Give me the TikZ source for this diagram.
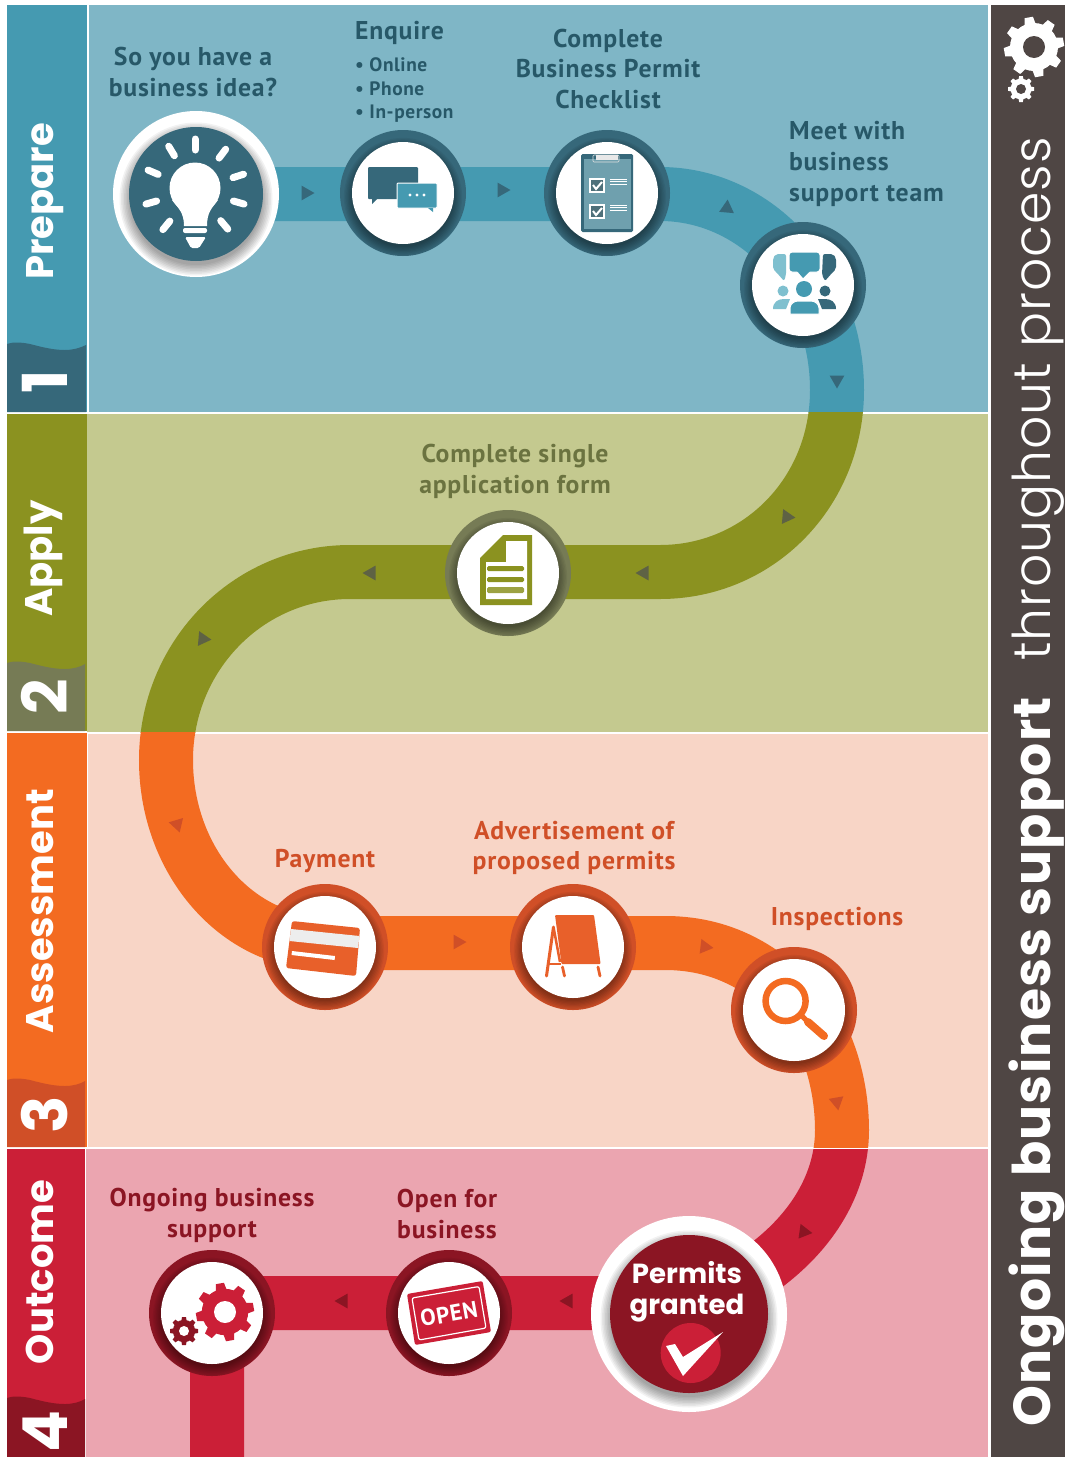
\documentclass[tikz,border=0pt]{standalone}
\usepackage{fontspec}
\setmainfont{PT Sans}
\newfontfamily\din{PT Sans}[LetterSpace=3]
\newfontfamily\popb{Poppins}[UprightFont=* Bold]
\newfontfamily\popbs{Poppins}[UprightFont=* Bold,LetterSpace=2.4]
\newfontfamily\popl{Poppins}[UprightFont=* Light,LetterSpace=1.8]
\definecolor{panelA}{HTML}{7FB6C6}\definecolor{panelB}{HTML}{C4C98F}
\definecolor{panelC}{HTML}{F8D5C6}\definecolor{panelD}{HTML}{EBA5B0}
\definecolor{trackA}{HTML}{459AB1}\definecolor{trackB}{HTML}{8B9220}
\definecolor{trackC}{HTML}{F36B21}\definecolor{trackD}{HTML}{CB1F37}
\definecolor{ringA}{HTML}{36687A}\definecolor{ringB}{HTML}{767B55}
\definecolor{ringC}{HTML}{D04F27}\definecolor{ringD}{HTML}{8B1523}
\definecolor{textA}{HTML}{275868}\definecolor{textB}{HTML}{6B7340}
\definecolor{sidebar}{HTML}{4F4644}\definecolor{iconC}{HTML}{E8602A}
\definecolor{lightA}{HTML}{7FC0CF}\definecolor{boardfill}{HTML}{6FA0AE}
\tikzset{
  lbl/.style={font=\din\bfseries\fontsize{25.7}{30.8}\selectfont,align=center,inner sep=0pt},
  lbls/.style={font=\din\bfseries\fontsize{19.4}{24}\selectfont,anchor=west,inner sep=0pt},
  sidelbl/.style={font=\popb\fontsize{38.5}{38.5}\selectfont,text=white,rotate=90,anchor=base,inner sep=0pt},
  numlbl/.style={font=\popb\fontsize{62}{62}\selectfont,text=white,rotate=90,anchor=base,inner sep=0pt},
  ringdisc/.style={circle,inner sep=0pt,minimum size=126pt},
  whitedisc/.style={circle,inner sep=0pt,minimum size=102pt,fill=white},
  trackline/.style={line width=54pt,line cap=butt,line join=miter}
}
\newcommand\softshade[3]{%
  \foreach \k in {0,...,7}{\fill[black,opacity=.05] (#1,#2+4) circle ({#3-1+\k*1.3});}}
\newcommand\stopdisc[4]{%
  \node[ringdisc,fill=#4] (#1) at (#2,#3) {};
  \begin{scope}\clip (#2,#3) circle (63);\softshade{#2}{#3}{51}\end{scope}
  \node[whitedisc] (#1in) at (#2,#3) {};}
\newcommand\tri[4]{\fill[#4,shift={(#1,#2)},rotate=#3] (7.5,0) -- (-5.5,-7.4) -- (-5.5,7.4) -- cycle;}
\newcommand\gearicon[7]{%
  \foreach \a in {0,45,...,315}{\fill[#5,shift={(#1,#2)},rotate=\a+#7]
     ({.68*#3},{-.2*#3}) -- (#3,{-.14*#3}) -- (#3,{.14*#3}) -- ({.68*#3},{.2*#3}) -- cycle;}
  \fill[#5] (#1,#2) circle ({.8*#3});
  \fill[#6] (#1,#2) circle (#4);}
\newcommand\wave[4]{%
  \fill[#4] (7,#2) -- (7,{#1+2}) .. controls (12,{#1}) and (20,{#1}) .. (30,{#1+2})
    .. controls (45,{#1+6}) and (55,{#1+8}) .. (65,{#1+8})
    .. controls (73,{#1+8}) and (80,{#1+6}) .. (#3,{#1+3}) -- (#3,#2) -- cycle;}
\begin{document}
\begin{tikzpicture}[x=1pt,y=-1pt]
\useasboundingbox (0,0) rectangle (1065,1457);
\fill[white] (0,0) rectangle (1065,1457);
% panels
\fill[panelA] (89,5) rectangle (988,412);
\fill[panelB] (87,414) rectangle (988,732);
\fill[panelC] (88,734) rectangle (988,1147);
\fill[panelD] (86,1149) rectangle (988,1457);
% left bands
\fill[trackA] (7,5) rectangle (87,412);
\fill[trackB] (7,414) rectangle (87,731);
\fill[trackC] (7,733) rectangle (87,1147);
\fill[trackD] (7,1149) rectangle (85,1457);
\wave{342}{412}{86}{ringA}
\wave{661}{731}{85}{ringB}
\wave{1078}{1147}{85}{ringC}
\wave{1396}{1457}{85}{ringD}
\fill[sidebar] (991,5) rectangle (1065,1457);
% track
\coordinate (trkstart) at (196,194);
\coordinate (trkA) at (660,194);
\coordinate (trkB) at (837,390);
\coordinate (trkC) at (660,572);
\coordinate (trkD) at (350,572);
\coordinate (trkE) at (166,760);
\coordinate (trkF) at (325,943);
\coordinate (trkG) at (665,943);
\coordinate (trkH) at (800,1005);
\coordinate (trkI) at (842,1130);
\coordinate (trkJ) at (700,1303);
\coordinate (trkK) at (217,1303);
\coordinate (trkL) at (217,1457);
\def\trackpath{(trkstart) -- (trkA) .. controls (758,194) and (837,282) .. (trkB)
  .. controls (837,493) and (758,572) .. (trkC) -- (trkD)
  .. controls (248,572) and (166,656) .. (trkE)
  .. controls (166,861) and (237,943) .. (trkF) -- (trkG)
  .. controls (730,943) and (770,975) .. (trkH)
  .. controls (825,1030) and (842,1080) .. (trkI)
  .. controls (842,1200) and (790,1265) .. (trkJ) -- (trkK) -- (trkL)}
\begin{scope}\clip (0,0) rectangle (988,412.5);\draw[trackline,trackA] \trackpath;\end{scope}
\begin{scope}\clip (0,412.5) rectangle (988,732.5);\draw[trackline,trackB] \trackpath;\end{scope}
\begin{scope}\clip (0,732.5) rectangle (988,1147);\draw[trackline,trackC] \trackpath;\end{scope}
\begin{scope}\clip (0,1149) rectangle (988,1457);\draw[trackline,trackD] \trackpath;\end{scope}
% track arrows
\tri{307}{193}{0}{ringA}\tri{503}{190}{0}{ringA}\tri{727}{207}{85}{ringA}\tri{837}{381}{-90}{ringA}
\tri{788}{517}{-5}{ringB!80!black}\tri{643}{573}{180}{ringB!80!black}\tri{370}{573}{180}{ringB!80!black}\tri{204}{639}{-5}{ringB!80!black}
\tri{176}{824}{167}{ringC}\tri{459}{942}{0}{ringC}\tri{706}{947}{-7}{ringC}\tri{837}{1103}{-80}{ringC}
\tri{805}{1232}{-8}{ringD}\tri{567}{1301}{180}{ringD}\tri{342}{1301}{180}{ringD}
% bulb
\node[circle,fill=white,inner sep=0pt,minimum size=166pt] (bulbout) at (196,194) {};
\begin{scope}\clip (196,194) circle (83);
\foreach \k in {0,...,7}{\fill[black,opacity=.05] (196,199) circle ({66+\k*1.5});}
\end{scope}
\node[circle,fill=ringA,inner sep=0pt,minimum size=134pt] (bulb) at (196,194) {};
\foreach \a in {90,121,53,157,18,196,-16,231,-50}{
  \draw[white,line width=7pt,line cap=round,shift={(195,190)},rotate=\a] (40,0) -- (51,0);}
\fill[white] (195,188) circle (25.5);
\fill[white] (172,200) .. controls (178,208) and (184,212) .. (184,226) -- (207,226) .. controls (207,212) and (212,208) .. (218,200) -- cycle;
\fill[white,rounded corners=2pt] (183,228) rectangle (207,233);
\fill[white,rounded corners=1.5pt] (185,237) -- (206,237) -- (199,248) -- (191,248) -- cycle;
% chat
\stopdisc{chat}{403}{193}{ringA}
\fill[ringA,rounded corners=1pt] (368,167) rectangle (418,199);
\fill[ringA] (372,198) -- (372,204) -- (378,198) -- cycle;
\fill[trackA,draw=white,line width=1pt,rounded corners=1pt] (397,183) rectangle (437,208);
\fill[trackA] (428,208) -- (433,212) -- (433,208) -- cycle;
\foreach \x in {410,417,424}{\fill[white] (\x,195) circle (1.7);}
% checklist
\stopdisc{check}{607}{193}{ringA}
\fill[ringA,rounded corners=1.5pt] (581,154) rectangle (633,232);
\fill[boardfill] (584,159) rectangle (631,229);
\draw[white!75!gray,line width=.6pt,rounded corners=1pt] (593,155) rectangle (619,162);
\fill[white!82!gray] (596,155) rectangle (618,160);
\foreach \y in {178,204}{
  \fill[boardfill!70!black] (589,\y) rectangle (605,\y+15);
  \draw[white,line width=1.3pt] (590,\y+1) rectangle (604,\y+14);
  \draw[white,line width=2pt] (593,\y+7) -- (596,\y+11) -- (602,\y+4);
  \foreach \d in {1,3.5,6}{\draw[white,line width=.8pt] (610,\y+\d) -- (627,\y+\d);}
}
% team
\stopdisc{team}{803}{285}{ringA}
\fill[lightA,rounded corners=2pt] (786,254) -- (776,254) -- (773,258) -- (773,269) -- (777,273) -- (784,281) -- (786,275) -- cycle;
\fill[ringA,rounded corners=2pt] (823,254) -- (833,254) -- (836,258) -- (836,269) -- (832,273) -- (825,281) -- (822,275) -- cycle;
\fill[trackA,draw=white,line width=1pt,rounded corners=3pt] (789,252) rectangle (820,272);
\fill[trackA] (797,271) -- (803,278) -- (810,271) -- cycle;
\fill[lightA] (783,291) circle (5.5);
\fill[lightA] (773,309) .. controls (773,302) and (778,299) .. (784,299) -- (790,299) -- (786,309) -- cycle;
\fill[ringA] (825,291) circle (5.5);
\fill[ringA] (836,309) .. controls (836,302) and (831,299) .. (825,299) -- (818,299) -- (822,309) -- cycle;
\fill[trackA] (804,289) circle (8);
\fill[trackA,draw=white,line width=1pt] (790,314) -- (790,308) .. controls (790,304) and (794,301) .. (798,301) -- (811,301) .. controls (815,301) and (819,304) .. (819,308) -- (819,314) -- cycle;
% document
\stopdisc{doc}{508}{573}{ringB}
\fill[trackB] (503,535) -- (532,535) -- (532,605) -- (480,605) -- (480,558) -- cycle;
\fill[white] (506,541) -- (527,541) -- (527,599) -- (486,599) -- (486,562) -- (506,562) -- cycle;
\fill[trackB,rounded corners=1.5pt] (487,566) rectangle (524,571);
\fill[trackB,rounded corners=1.5pt] (487,577) rectangle (524,582);
\fill[trackB!85!white,rounded corners=1.5pt] (487,587) rectangle (524,593);
% card
\stopdisc{card}{325}{947}{ringC}
\fill[iconC,rounded corners=2.5pt] (292,921) -- (360,928) -- (356,976) -- (286,968) -- cycle;
\fill[white!93!black] (291,929) -- (359.5,936) -- (358,948) -- (289.5,941) -- cycle;
\fill[white] (292,951) -- (335,956) -- (334.6,960) -- (291.5,955) -- cycle;
% a-board
\stopdisc{board}{573}{947}{ringC}
\fill[iconC,rounded corners=1pt] (555,915) -- (594,915) -- (600.6,964) -- (561.5,964) -- cycle;
\draw[iconC,line width=3pt,line cap=round] (553.5,927) -- (546.5,976);
\draw[iconC,line width=2.5pt] (553.5,927) -- (560,962);
\draw[iconC,line width=2pt] (549,963.5) -- (561,963.5);
\draw[iconC,line width=2.8pt,line cap=round] (562.5,967) -- (564.5,976);
\draw[iconC,line width=2.8pt,line cap=round] (598,967) -- (600,976);
% magnifier
\stopdisc{lens}{794}{1010}{ringC}
\draw[trackC,line width=6.5pt] (785.6,1001) circle (20);
\draw[trackC,line width=5pt] (801,1015) -- (812,1026);
\draw[trackC,line width=8pt,line cap=round] (808,1022) -- (824,1036);
% gears
\stopdisc{gears}{212}{1313}{ringD}
\gearicon{225}{1312}{29}{11}{trackD}{white}{10}
\gearicon{184}{1331}{14}{5}{ringD}{white}{0}
% open
\stopdisc{opens}{449}{1313}{ringD}
\fill[trackD,rounded corners=2pt] (407,1294) -- (482.6,1281) -- (491,1332) -- (415,1345) -- cycle;
\draw[white,line width=1.2pt,rounded corners=2pt] (412,1298) -- (479,1286.5) -- (486,1328) -- (419,1340) -- cycle;
\node[rotate=10,font=\din\bfseries\fontsize{23}{23}\selectfont,text=white,inner sep=0pt] (opentxt) at (449,1314) {OPEN};
% permits
\node[circle,fill=white,inner sep=0pt,minimum size=196pt] (permout) at (689,1314) {};
\begin{scope}\clip (689,1314) circle (98);
\foreach \k in {0,...,7}{\fill[black,opacity=.05] (689,1319) circle ({78+\k*1.5});}
\end{scope}
\node[circle,fill=ringD,inner sep=0pt,minimum size=158pt] (permits) at (689,1314) {};
\fill[trackD] (690.7,1353) circle (30);
\fill[white] (666,1346) -- (675,1344) -- (683,1357) -- (723,1332) -- (683,1376) -- cycle;
\node[font=\popb\fontsize{27.6}{31}\selectfont,text=white,align=center,inner sep=0pt] (permtxt) at (687,1292) {Permits\\granted};
% labels
\node[lbl,text=textA] (l1) at (193,72) {So you have a\\business idea?};
\node[lbl,text=textA,anchor=west] (l2) at (355,33) {Enquire};
\node[lbls,text=textA] (l2a) at (355,65) {• Online};
\node[lbls,text=textA] (l2b) at (355,89) {• Phone};
\node[lbls,text=textA] (l2c) at (355,114) {• In-person};
\node[lbl,text=textA] (l3) at (608,69) {Complete\\Business Permit\\Checklist};
\node[lbl,text=textA,align=left,anchor=west] (l4) at (789,164) {Meet with\\business\\support team};
\node[lbl,text=textB] (l5) at (515,471) {Complete single\\application form};
\node[lbl,text=ringC] (l6) at (325,861) {Payment};
\node[lbl,text=ringC] (l7) at (574,848) {Advertisement of\\proposed permits};
\node[lbl,text=ringC] (l8) at (837,919) {Inspections};
\node[lbl,text=ringD] (l9) at (212,1215) {Ongoing business\\support};
\node[lbl,text=ringD] (l10) at (447,1214) {Open for\\business};
% side labels
\node[sidelbl] (s1) at (53,201.5) {Prepare};
\node[sidelbl] (s2) at (52,558.5) {Apply};
\node[sidelbl] (s3) at (53,911) {Assessment};
\node[sidelbl] (s4) at (53,1272) {Outcome};
\node[numlbl] (n1) at (67,382) {1};
\node[numlbl] (n2) at (67,697) {2};
\node[numlbl] (n3) at (67,1115) {3};
\node[numlbl] (n4) at (67,1431) {4};
% right bar
\node[font=\popbs\fontsize{52}{52}\selectfont,text=white,rotate=90,anchor=base,inner sep=0pt] (r1) at (1050,1062) {Ongoing business support};
\node[font=\popl\fontsize{52}{52}\selectfont,text=white,rotate=90,anchor=base,inner sep=0pt] (r2) at (1050,399) {throughout process};
\gearicon{1034}{47}{30}{11}{white}{sidebar}{10}
\gearicon{1021}{89}{13}{5}{white}{sidebar}{0}
\end{tikzpicture}
\end{document}
